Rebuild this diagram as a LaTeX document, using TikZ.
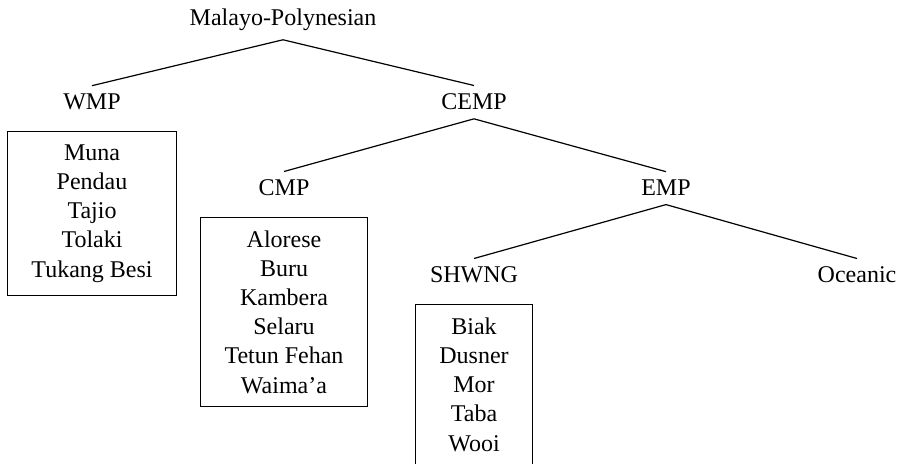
\documentclass[tikz,border=0pt]{standalone}
\usepackage{fontspec}
\setmainfont{Liberation Serif}
\usetikzlibrary{positioning}

\begin{document}
\begin{tikzpicture}[x=0.5pt,y=-0.5pt,font={\fontsize{12pt}{14.6pt}\selectfont},line width=0.6pt,
		group/.style={anchor=base,inner sep=4pt},
		langs/.style={rectangle,draw=black,align=center,inner xsep=12pt,inner ysep=6.5pt}]
		\useasboundingbox (0,0) rectangle (899,464);
		\node[group] (1) at (283,26) {Malayo-Polynesian};
		\node[group] (2) at (92,110) {WMP};
		\node[group] (3) at (474,110) {CEMP};
		\node[group] (4) at (284,196) {CMP};
		\node[group] (5) at (666,196) {EMP};
		\node[group] (6) at (474,283) {SHWNG};
		\node[group] (7) at (857,283) {Oceanic};
		\node[langs,below = 6pt of 2] (8) {Muna\\Pendau\\Tajio\\Tolaki\\Tukang Besi};
		\node[langs,below = 6pt of 4] (9) {Alorese\\Buru\\Kambera\\Selaru\\Tetun Fehan\\Waima’a};
		\node[langs,below = 6pt of 6] (10) {Biak\\Dusner\\Mor\\Taba\\Wooi};

		\draw (1.south) -- (2.north);
		\draw (1.south) -- (3.north);
		\draw (3.south) -- (4.north);
		\draw (3.south) -- (5.north);
		\draw (5.south) -- (6.north);
		\draw (5.south) -- (7.north);
	\end{tikzpicture}
\end{document}
